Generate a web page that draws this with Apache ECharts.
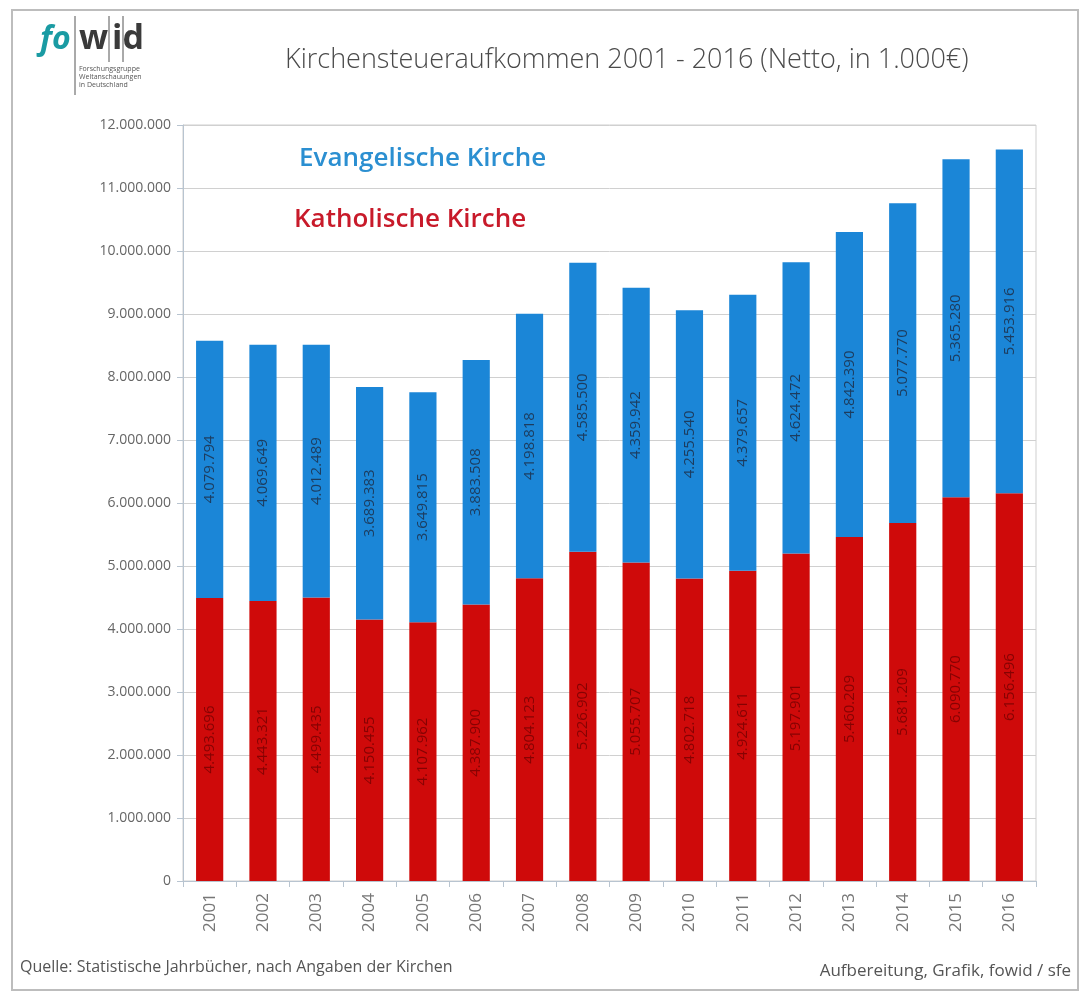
<!DOCTYPE html>
<html>
<head>
    <meta charset="utf-8">
    <title>Kirchensteueraufkommen 2001 - 2016</title>
    <script src="https://cdn.jsdelivr.net/npm/echarts@6.0.0/dist/echarts.min.js"></script>
    <style>
        html, body { margin: 0; padding: 0; background: #fff; }
        #main { width: 1089px; height: 1000px; }
    </style>
</head>
<body>
<div id="main"></div>
<script>
    // Jahre
    var years = ['2001', '2002', '2003', '2004', '2005', '2006', '2007', '2008',
                 '2009', '2010', '2011', '2012', '2013', '2014', '2015', '2016'];
    // Katholische Kirche (in 1.000 €)
    var katholisch = [4493696, 4443321, 4499435, 4150455, 4107962, 4387900, 4804123, 5226902,
                      5055707, 4802718, 4924611, 5197901, 5460209, 5681209, 6090770, 6156496];
    // Evangelische Kirche (in 1.000 €)
    var evangelisch = [4079794, 4069649, 4012489, 3689383, 3649815, 3883508, 4198818, 4585500,
                       4359942, 4255540, 4379657, 4624472, 4842390, 5077770, 5365280, 5453916];

    function fmt(v) {
        return String(v).replace(/\B(?=(\d{3})+(?!\d))/g, '.');
    }

    var font = '"Open Sans", "Noto Sans", sans-serif';
    var myChart = echarts.init(document.getElementById('main'));

    myChart.setOption({
        animation: false,
        textStyle: { fontFamily: font },
        grid: {
            left: 183, right: 53, top: 125, bottom: 119,
            show: true, borderColor: '#cfcfcf', borderWidth: 1
        },
        graphic: [
            // Rahmen
            { type: 'rect', shape: { x: 12, y: 10, width: 1066, height: 980 },
              style: { fill: 'none', stroke: '#bdbdbd', lineWidth: 2 }, z: 0 },
            // Logo
            { type: 'text', left: 40, top: 24,
              style: { text: 'fo', fontSize: 32, fontWeight: 'bold', fontStyle: 'italic',
                       fill: '#1a9ba3', fontFamily: font } },
            { type: 'text', left: 79, top: 22,
              style: { text: 'w', fontSize: 34, fontWeight: 'bold', fill: '#3a3a3a', fontFamily: font } },
            { type: 'text', left: 112, top: 22,
              style: { text: 'id', fontSize: 34, fontWeight: 'bold', fill: '#3a3a3a', fontFamily: font } },
            { type: 'line', shape: { x1: 75, y1: 16, x2: 75, y2: 95 },
              style: { stroke: '#555', lineWidth: 1 } },
            { type: 'line', shape: { x1: 109, y1: 16, x2: 109, y2: 62 },
              style: { stroke: '#555', lineWidth: 1 } },
            { type: 'line', shape: { x1: 123, y1: 16, x2: 123, y2: 62 },
              style: { stroke: '#555', lineWidth: 1 } },
            { type: 'text', left: 79, top: 65,
              style: { text: 'Forschungsgruppe\nWeltanschauungen\nin Deutschland', fontSize: 7,
                       lineHeight: 8, fill: '#555', fontFamily: font } },
            // Titel
            { type: 'text', left: 285, top: 47,
              style: { text: 'Kirchensteueraufkommen 2001 - 2016 (Netto, in 1.000€)', fontSize: 27,
                       fill: '#4a4a4a', fontFamily: font, fontWeight: 300 } },
            // Legende
            { type: 'text', left: 299, top: 146,
              style: { text: 'Evangelische Kirche', fontSize: 26, fontWeight: 600,
                       fill: '#2b8fd1', fontFamily: font }, z: 10 },
            { type: 'text', left: 294, top: 207,
              style: { text: 'Katholische Kirche', fontSize: 26, fontWeight: 600,
                       fill: '#c81a2a', fontFamily: font }, z: 10 },
            // Fußzeile
            { type: 'text', left: 20, top: 959,
              style: { text: 'Quelle: Statistische Jahrbücher, nach Angaben der Kirchen', fontSize: 16,
                       fill: '#555', fontFamily: font } },
            { type: 'text', right: 18, top: 963,
              style: { text: 'Aufbereitung, Grafik, fowid / sfe', fontSize: 17,
                       fill: '#555', fontFamily: font } }
        ],
        xAxis: {
            type: 'category',
            data: years,
            axisLine: { lineStyle: { color: '#b8c4d0' } },
            axisTick: { show: true, length: 6, lineStyle: { color: '#b8c4d0' } },
            axisLabel: { rotate: 90, fontSize: 17, color: '#777', margin: 12 }
        },
        yAxis: {
            type: 'value',
            min: 0, max: 12000000, interval: 1000000,
            axisLine: { show: true, lineStyle: { color: '#b8c4d0' } },
            axisTick: { show: true, length: 6, lineStyle: { color: '#b8c4d0' } },
            axisLabel: { fontSize: 14, color: '#666', margin: 12,
                         formatter: function (v) { return fmt(v); } },
            splitLine: { lineStyle: { color: '#d0d0d0' } }
        },
        series: [
            {
                name: 'Katholische Kirche',
                type: 'bar',
                stack: 'kirche',
                barWidth: '51%',
                data: katholisch,
                itemStyle: { color: '#cf0a0a' },
                label: {
                    show: true, position: 'inside', rotate: 90,
                    fontSize: 15, color: 'rgba(110,0,0,0.75)',
                    formatter: function (p) { return fmt(p.value); }
                }
            },
            {
                name: 'Evangelische Kirche',
                type: 'bar',
                stack: 'kirche',
                barWidth: '51%',
                data: evangelisch,
                itemStyle: { color: '#1b86d7' },
                label: {
                    show: true, position: 'inside', rotate: 90,
                    fontSize: 15, color: '#1d3c5e',
                    formatter: function (p) { return fmt(p.value); }
                }
            }
        ]
    });
</script>
</body>
</html>
